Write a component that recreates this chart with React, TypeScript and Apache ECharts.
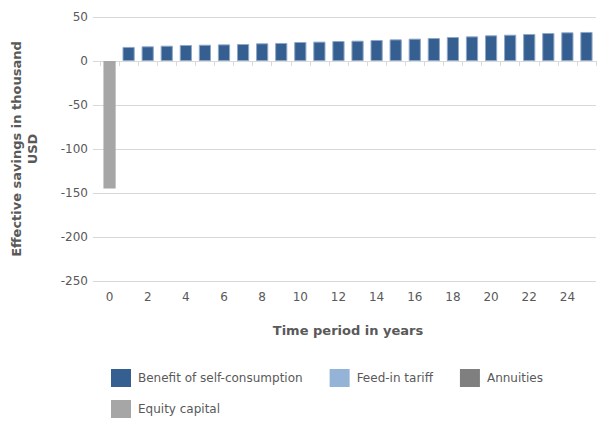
import React, { useEffect, useRef } from "react";
import * as echarts from "echarts";

const years = Array.from({ length: 26 }, (_, i) => String(i));
const benefitOfSelfConsumption = [null, 16, 16.7, 17.4, 18.2, 18.5, 18.9, 19.3, 20.1, 20.5, 21.6, 22, 22.7, 23.1, 23.9, 24.6, 25.4, 26.1, 27.3, 28, 29.2, 29.9, 30.7, 31.8, 32.6, 33];
const feedInTariff: (number | null)[] = years.map(() => null);
const annuities: (number | null)[] = years.map(() => null);
const equityCapital = [-145, ...years.slice(1).map(() => null)];

const FONT = "DejaVu Sans";
const TXT = "#595959";

export default function App() {
  const ref = useRef<HTMLDivElement>(null);
  useEffect(() => {
    const chart = echarts.init(ref.current!, null, { renderer: "svg" });
    const legendText = { color: TXT, fontFamily: FONT, fontSize: 12, padding: [0, 0, 0, 2] };
    chart.setOption({
      animation: false,
      textStyle: { fontFamily: FONT },
      grid: { left: 100, right: 1, top: 17, bottom: 142, containLabel: false },
      legend: [
        {
          data: ["Benefit of self-consumption", "Feed-in tariff", "Annuities"],
          left: 111,
          top: 369,
          padding: 0,
          itemWidth: 20,
          itemHeight: 18,
          itemGap: 27,
          icon: "rect",
          itemStyle: { borderWidth: 0 },
          textStyle: legendText,
          selectedMode: false,
        },
        {
          data: ["Equity capital"],
          left: 111,
          top: 400,
          padding: 0,
          itemWidth: 20,
          itemHeight: 18,
          icon: "rect",
          itemStyle: { borderWidth: 0 },
          textStyle: legendText,
          selectedMode: false,
        },
      ],
      xAxis: {
        type: "category",
        data: years,
        name: "Time period in years",
        nameLocation: "middle",
        nameGap: 43,
        nameTextStyle: { color: TXT, fontWeight: "bold", fontSize: 13, fontFamily: FONT },
        axisLine: { lineStyle: { color: "#d9d9d9" } },
        axisTick: { show: true, length: 5, interval: 0, lineStyle: { color: "#d9d9d9" } },
        axisLabel: { interval: 1, color: TXT, fontSize: 12, margin: 10, fontFamily: FONT },
      },
      yAxis: {
        type: "value",
        min: -250,
        max: 50,
        interval: 50,
        name: "Effective savings in thousand\nUSD",
        nameLocation: "middle",
        nameGap: 60,
        nameTextStyle: { color: TXT, fontWeight: "bold", fontSize: 13, fontFamily: FONT, lineHeight: 16 },
        axisLine: { show: false },
        axisTick: { show: true, length: 7, lineStyle: { color: "#d9d9d9" } },
        axisLabel: { color: TXT, fontSize: 12, margin: 12, fontFamily: FONT },
        splitLine: { lineStyle: { color: "#d9d9d9" } },
      },
      series: [
        {
          name: "Benefit of self-consumption",
          type: "bar",
          stack: "total",
          data: benefitOfSelfConsumption,
          barCategoryGap: "36%",
          itemStyle: { color: "#355f91", borderColor: "#8fa8c8", borderWidth: 1 },
        },
        {
          name: "Feed-in tariff",
          type: "bar",
          stack: "total",
          data: feedInTariff,
          itemStyle: { color: "#95b3d7" },
        },
        {
          name: "Annuities",
          type: "bar",
          stack: "total",
          data: annuities,
          itemStyle: { color: "#7f7f7f" },
        },
        {
          name: "Equity capital",
          type: "bar",
          stack: "total",
          data: equityCapital,
          itemStyle: { color: "#a6a6a6" },
        },
      ],
    });
    return () => chart.dispose();
  }, []);
  return <div ref={ref} style={{ width: 597, height: 423, position: "absolute", left: 0, top: 0 }} />;
}
